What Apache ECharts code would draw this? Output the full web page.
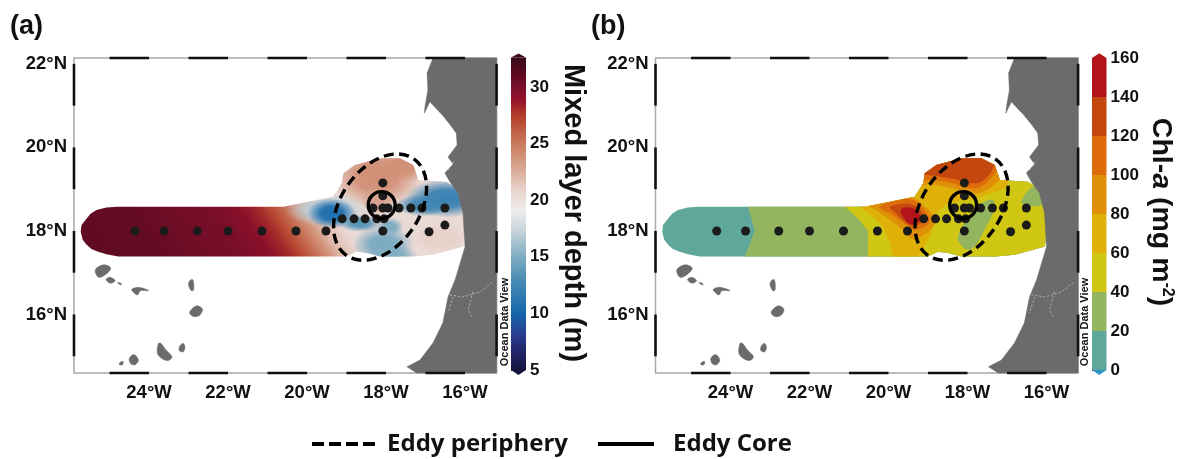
<!DOCTYPE html>
<html><head><meta charset="utf-8">
<style>html,body{margin:0;padding:0;background:#fff}#c{width:1184px;height:459px}</style>
<script src="https://cdn.jsdelivr.net/npm/echarts@6/dist/echarts.min.js"></script></head>
<body><div id="c"></div>
<script>
// ---- map extents and ticks
const lonRange=[-25.9,-15.2], latRange=[14.6,22.14];
const lonTicks=[-24,-22,-20,-18,-16], latTicks=[16,18,20,22];
const lonDashes=[[-25,-24],[-23,-22],[-21,-20],[-19,-18],[-17,-16]];
const latDashes=[[22,21],[20,19],[18,17],[16,15]];
// ---- stations [lon,lat]
const stations=[[-24.35,18],[-23.62,18],[-22.78,18],[-22,18],[-21.14,18],[-20.28,18],[-19.52,18],[-18.08,18],[-16.91,17.98],
[-19.11,18.29],[-18.81,18.29],[-18.53,18.29],[-18.23,18.29],[-18.05,18.29],
[-18.33,18.55],[-18.08,18.55],[-17.95,18.55],[-17.67,18.55],[-17.37,18.55],[-17.09,18.55],[-16.51,18.55],
[-18.08,18.84],[-18.08,19.15],[-16.51,18.14]];
// ---- eddy outlines [lon,lat,radius along axis (deg lon),radius across (deg lon),tilt deg]
const eddyPeriphery=[-18.15,18.57,1.49,0.99,55];
const eddyCore=[-18.11,18.62,0.34,0.34,0];
// ---- sampled area outline
const sampledArea=[[-25.73,17.98],[-25.71,18.14],[-25.58,18.3],[-25.48,18.41],[-25.33,18.5],[-25.08,18.56],[-24.82,18.58],[-20.6,18.58],[-20.18,18.66],[-19.34,18.82],[-19.12,19.14],[-19.08,19.38],[-18.79,19.58],[-18.15,19.74],[-17.65,19.74],[-17.31,19.58],[-17.18,19.22],[-16.47,19.18],[-16.21,19.02],[-16.04,18.5],[-16,18.03],[-16.04,17.63],[-16.8,17.43],[-17.3,17.39],[-18.15,17.39],[-18.49,17.47],[-18.75,17.5],[-19,17.39],[-24.78,17.39],[-25.08,17.44],[-25.29,17.5],[-25.46,17.57],[-25.58,17.67],[-25.68,17.79]];
// ---- land
const coast=[[-16.81,22.14],[-16.96,21.78],[-16.94,21.37],[-17.01,21.0],[-17.03,20.82],[-16.89,21.09],[-16.75,20.95],[-16.58,20.78],[-16.38,20.55],[-16.22,20.34],[-16.2,20.06],[-16.43,19.77],[-16.3,19.6],[-16.51,19.39],[-16.38,19.17],[-16.18,18.91],[-16.05,18.43],[-16,17.62],[-16.25,16.83],[-16.43,16.42],[-16.56,15.8],[-16.81,15.32],[-17.14,14.91],[-17.47,14.75],[-17.22,14.6],[-15.2,14.6],[-15.2,22.14]];
const islands=[
[[-25.36,17.07],[-25.15,17.19],[-24.97,17.11],[-25.11,16.95],[-25.28,16.89]],
[[-25.09,16.84],[-24.98,16.89],[-24.86,16.81],[-24.98,16.75]],
[[-24.8,16.77],[-24.69,16.73],[-24.73,16.71]],
[[-24.44,16.6],[-24.27,16.65],[-24.01,16.57],[-24.22,16.57],[-24.29,16.47],[-24.38,16.52]],
[[-22.97,16.81],[-22.89,16.83],[-22.87,16.59],[-22.93,16.57],[-23,16.71]],
[[-22.94,16.11],[-22.79,16.21],[-22.65,16.13],[-22.71,15.99],[-22.87,15.95],[-22.97,16.03]],
[[-23.23,15.23],[-23.14,15.31],[-23.09,15.22],[-23.13,15.11],[-23.23,15.13]],
[[-23.76,15.31],[-23.7,15.31],[-23.57,15.15],[-23.42,14.99],[-23.51,14.9],[-23.68,14.95],[-23.79,15.07]],
[[-24.5,14.95],[-24.38,15.04],[-24.27,14.91],[-24.35,14.8],[-24.46,14.82]],
[[-24.75,14.84],[-24.66,14.88],[-24.67,14.8],[-24.75,14.8]]];
const landCracks=[
[[-16.38,16.47],[-16.05,16.42],[-15.62,16.54],[-15.29,16.78]],
[[-16.3,16.42],[-16.43,16.04]],
[[-15.8,16.54],[-15.92,16.11],[-15.82,15.92]],
[[-16.43,19.46],[-16.25,19.7]]];
// ---- mixed layer depth: colour scale
const mldScale=[5,6.8,8.2,10,13,15,17.4,19.1,20.9,22.9,25,27.4,28.8,30,31.2,32.6];
const mldColors=['#15143f','#23286e','#2a3f90','#1366ab','#4a8db5','#7eadc2','#c9d6dc','#efeceb','#e8d3cc','#d9a590','#c97a5c','#b5402a','#95132a','#7a0e2a','#5a0a20','#3c0a1c'];
const mldTicks=[5,10,15,20,25,30];
// ---- mixed layer depth: west-to-east profile along 18N
const mldProfileLon=[-25.9,-24,-23,-22,-21.3,-20.9,-20.53,-20.3,-19.8,-19.54,-19];
const mldProfileVal=[31,30.8,30.3,30,29.2,28.2,27,26,23.5,22,20.4];
// ---- mixed layer depth: local features east of 20W [lon,lat,rx,ry,value]
const mldFeatures=[
[-18.24,19.3,1.15,0.75,24],[-17.48,19.62,0.65,0.45,24],[-16.47,18.78,1.05,0.46,12],[-17.06,18.62,0.7,0.27,12.5],
[-19.5,18.5,1.05,0.4,17],[-19.38,18.42,0.62,0.36,10.5],[-18.66,18.18,0.55,0.2,13.5],[-18.07,17.67,0.78,0.46,14.8],[-17.82,17.39,0.62,0.3,15],
[-17.9,18.1,0.35,0.22,15],[-16.63,17.83,0.75,0.36,21],[-18.2,18.72,0.42,0.34,23]];
// ---- chl-a: colour classes
const chlLevels=[0,20,40,60,80,100,120,140,160];
const chlColors=['#5fa79b','#93b55f','#d0c614','#dfb108','#df8f08','#de6c0b','#c3470f','#b3131b'];
// ---- chl-a: class areas, painted in this order
const chlClasses=[1,2,3,4,5,6,7,4,5,6,1,1];
const chlAreas=[
[[-23.6,18.7],[-23.47,18.3],[-23.39,18],[-23.51,17.7],[-23.68,17.3],[-15,17.3],[-15,20],[-23.6,20]],
[[-21.25,18.7],[-20.77,18.3],[-20.52,18],[-20.52,17.3],[-15,17.3],[-15,20],[-21.25,20]],
[[-20.72,18.62],[-19.97,18.78],[-19.5,18.9],[-19.4,19.3],[-19.2,20.1],[-17.3,20.1],[-17,19.5],[-16.98,19.14],[-17.15,18.98],[-17.53,18.86],[-17.78,18.78],[-18.29,18.7],[-18.71,18.5],[-18.88,18.1],[-19,17.79],[-19.38,17.3],[-19.8,17.3],[-20,17.8],[-20.18,18.14],[-20.45,18.38]],
[[-20.48,18.6],[-19.89,18.78],[-19.47,18.82],[-19.21,18.7],[-18.88,18.38],[-18.83,18.15],[-19.17,17.87],[-19.38,17.79],[-19.64,18.03],[-19.97,18.27],[-20.31,18.5]],
[[-20.23,18.58],[-19.8,18.73],[-19.43,18.76],[-19.09,18.5],[-18.96,18.22],[-19.3,18.03],[-19.55,18.15],[-19.89,18.38],[-20.14,18.5]],
[[-19.97,18.56],[-19.72,18.64],[-19.38,18.62],[-19.1,18.3],[-19.38,18.12],[-19.66,18.28],[-19.85,18.46]],
[[-19.68,18.52],[-19.38,18.54],[-19.18,18.3],[-19.43,18.16],[-19.62,18.32]],
[[-19.4,19.05],[-19,19.12],[-18.54,19.06],[-17.78,18.9],[-17.23,19.18],[-17,19.5],[-17,20.1],[-19.4,20.1]],
[[-19.4,19.2],[-19,19.22],[-18.54,19.18],[-17.78,19.02],[-17.38,19.3],[-17.2,19.55],[-17,20.1],[-19.4,20.1]],
[[-19.4,19.3],[-19.05,19.34],[-18.45,19.26],[-17.78,19.14],[-17.5,19.3],[-17.33,19.55],[-17.1,20.1],[-19.4,20.1]],
[[-18.24,17.87],[-18.03,18.27],[-17.74,18.58],[-17.48,18.74],[-17.32,18.7],[-17.36,18.42],[-17.53,18.1],[-17.78,17.67],[-17.99,17.55],[-18.2,17.71]],
[[-16.64,18.7],[-16.34,19.06],[-16.18,18.9],[-16.13,18.62],[-16.51,18.62]]];

// ---- helpers
function mldColor(v){
  if(v<=mldScale[0])return mldColors[0];
  for(let i=1;i<mldScale.length;i++){
    if(v<=mldScale[i]) return echarts.color.lerp((v-mldScale[i-1])/(mldScale[i]-mldScale[i-1]),[mldColors[i-1],mldColors[i]]);
  }
  return mldColors[mldColors.length-1];
}
const pts=(api,a)=>a.map(p=>api.coord(p));
const clipOf=api=>({type:'polygon',shape:{points:pts(api,sampledArea)}});
const GRAY='#6b6b6b';
function mapAxes(gi){
  const lab={fontFamily:'Liberation Sans',fontWeight:'bold',fontSize:18.5,color:'#111'};
  return {
    x:{type:'value',gridIndex:gi,min:lonRange[0],max:lonRange[1],splitLine:{show:false},axisLine:{show:false},axisTick:{show:false},
       axisLabel:{...lab,margin:10,customValues:lonTicks,formatter:v=>Math.abs(v)+'°W'}},
    y:{type:'value',gridIndex:gi,min:latRange[0],max:latRange[1],splitLine:{show:false},axisLine:{show:false},axisTick:{show:false},
       axisLabel:{...lab,margin:7,padding:[3,0,0,0],customValues:latTicks,formatter:v=>v+'°N'}}
  };
}
function custom(gi,data,renderItem,z){
  return {type:'custom',coordinateSystem:'cartesian2d',xAxisIndex:gi,yAxisIndex:gi,data,renderItem,silent:true,z:z||2,clip:false,animation:false};
}
function landSeries(gi){
  const all=[coast].concat(islands);
  return [
    custom(gi,all.map((a,i)=>[a[0][0],a[0][1],i]),(p,api)=>({type:'polygon',shape:{points:pts(api,all[p.dataIndex]),smooth:p.dataIndex?0.35:0},style:{fill:GRAY,stroke:GRAY,lineWidth:0.5}}),3),
    custom(gi,landCracks.map((a,i)=>[a[0][0],a[0][1],i]),(p,api)=>({type:'polyline',shape:{points:pts(api,landCracks[p.dataIndex])},style:{fill:'none',stroke:'#e8e8e8',lineWidth:0.6,lineDash:[2,2]}}),3)
  ];
}
function frameSeries(gi){
  const segs=[];
  lonDashes.forEach(d=>{segs.push([d[0],latRange[0],d[1],latRange[0]]);segs.push([d[0],latRange[1],d[1],latRange[1]]);});
  latDashes.forEach(d=>{segs.push([lonRange[0],d[0],lonRange[0],d[1]]);segs.push([lonRange[1],d[0],lonRange[1],d[1]]);});
  return custom(gi,segs,(p,api)=>{
    const a=api.coord([api.value(0),api.value(1)]),b=api.coord([api.value(2),api.value(3)]);
    return {type:'line',shape:{x1:a[0],y1:a[1],x2:b[0],y2:b[1]},style:{stroke:'#111',lineWidth:2.6}};
  },8);
}
function eddySeries(gi){
  const ring=(e,dash)=>(p,api)=>{
    const c=api.coord([e[0],e[1]]),rx=api.size([e[2],0])[0],ry=api.size([e[3],0])[0];
    return {type:'ellipse',x:c[0],y:c[1],rotation:e[4]*Math.PI/180,shape:{cx:0,cy:0,rx,ry},style:{fill:'none',stroke:'#000',lineWidth:3.4,lineDash:dash}};
  };
  return [custom(gi,[[eddyPeriphery[0],eddyPeriphery[1]]],ring(eddyPeriphery,[10,5.5]),7),
          custom(gi,[[eddyCore[0],eddyCore[1]]],ring(eddyCore,null),7)];
}
function stationSeries(gi){
  return {type:'scatter',xAxisIndex:gi,yAxisIndex:gi,data:stations,symbolSize:9,itemStyle:{color:'#1b1b1b',opacity:1},silent:true,z:6,animation:false};
}
// panel a field
function mldField(gi){
  const base=custom(gi,[[mldProfileLon[0],18]],(p,api)=>{
    const s=api.coord([mldProfileLon[0],18]),e=api.coord([mldProfileLon[mldProfileLon.length-1],18]);
    const L=e[0]-s[0],phi=33.7*Math.PI/180,c=Math.cos(phi),sn=Math.sin(phi);
    const span=mldProfileLon[mldProfileLon.length-1]-mldProfileLon[0];
    const stops=mldProfileLon.map((lon,i)=>({offset:(lon-mldProfileLon[0])/span,color:mldColor(mldProfileVal[i])}));
    const fill=new echarts.graphic.LinearGradient(s[0],s[1],s[0]+L*c*c,s[1]-L*c*sn,stops,true);
    return {type:'polygon',shape:{points:pts(api,sampledArea)},style:{fill}};
  },2);
  const blobs=custom(gi,mldFeatures,(p,api)=>{
    const f=mldFeatures[p.dataIndex],c=api.coord([f[0],f[1]]),sz=api.size([f[2],f[3]]);
    const col=mldColor(f[4]),fade=a=>echarts.color.modifyAlpha(col,a);
    const fill=new echarts.graphic.RadialGradient(0,0,1,[{offset:0,color:fade(1)},{offset:0.45,color:fade(0.92)},{offset:0.78,color:fade(0.4)},{offset:1,color:fade(0)}],true);
    return {type:'group',clipPath:clipOf(api),children:[{type:'circle',x:c[0],y:c[1],scaleX:sz[0],scaleY:sz[1],shape:{cx:0,cy:0,r:1},style:{fill}}]};
  },2);
  return [base,blobs];
}
// panel b field
function chlField(gi){
  const base=custom(gi,[[sampledArea[0][0],sampledArea[0][1]]],(p,api)=>({type:'polygon',shape:{points:pts(api,sampledArea)},style:{fill:chlColors[0]}}),2);
  const areas=custom(gi,chlAreas.map((a,i)=>[a[0][0],a[0][1],i]),(p,api)=>({type:'group',clipPath:clipOf(api),children:[{type:'polygon',shape:{points:pts(api,chlAreas[p.dataIndex]),smooth:p.dataIndex<2?0:0.4},style:{fill:chlColors[chlClasses[p.dataIndex]]}}]}),2);
  return [base,areas];
}
const cbLabel={fontFamily:'Liberation Sans',fontWeight:'bold',fontSize:17,color:'#111',margin:4};
function barAxis(gi,min,max,ticks){
  return {
    x:{type:'value',gridIndex:gi,min:0,max:1,show:false},
    y:{type:'value',gridIndex:gi,min,max,position:'right',splitLine:{show:false},axisLine:{show:false},
       axisTick:{show:true,length:3,inside:false,customValues:ticks,lineStyle:{color:'#333',width:1}},
       axisLabel:{...cbLabel,customValues:ticks}}
  };
}
function mldBar(gi){
  const lo=mldScale[0],hi=mldScale[mldScale.length-1];
  return custom(gi,[[0,lo]],(p,api)=>{
    const a=api.coord([0,hi]),b=api.coord([1,lo]);
    const stops=mldScale.map((v,i)=>({offset:(hi-v)/(hi-lo),color:mldColors[i]}));
    const fill=new echarts.graphic.LinearGradient(0,a[1],0,b[1],stops,true);
    const top=api.coord([0.5,32.95]),bot=api.coord([0.5,4.55]);
    return {type:'group',children:[
      {type:'rect',shape:{x:a[0],y:a[1],width:b[0]-a[0],height:b[1]-a[1]},style:{fill}},
      {type:'polygon',shape:{points:[[a[0],a[1]],[b[0],a[1]],top]},style:{fill:mldColors[mldColors.length-1]}},
      {type:'polygon',shape:{points:[[a[0],b[1]],[b[0],b[1]],bot]},style:{fill:mldColors[0]}}
    ]};
  },4);
}
function chlBar(gi){
  const bands=chlColors.map((c,i)=>[0,chlLevels[i],1,chlLevels[i+1]]);
  const rects=custom(gi,bands,(p,api)=>{
    const a=api.coord([0,api.value(3)]),b=api.coord([1,api.value(1)]);
    return {type:'rect',shape:{x:a[0],y:a[1],width:b[0]-a[0],height:b[1]-a[1]},style:{fill:chlColors[p.dataIndex]}};
  },4);
  const caps=custom(gi,[[0.5,162.5],[0.5,-2.5]],(p,api)=>{
    const i=p.dataIndex,tip=api.coord([0.5,api.value(1)]),base=i?0:160;
    const l=api.coord([0,base]),r=api.coord([1,base]);
    return {type:'polygon',shape:{points:[l,r,tip]},style:{fill:i?'#2f93c4':'#b3131b'}};
  },4);
  return [rects,caps];
}
const A=mapAxes(0),B=mapAxes(1),CA=barAxis(2,0,35,mldTicks),CB=barAxis(3,-20,180,chlLevels);
const gridStyle={show:true,backgroundColor:'#fff',borderColor:'#a8a8a8',borderWidth:1.5};
const legendBase={top:427,itemHeight:2,selectedMode:false,lineStyle:{width:4},itemStyle:{opacity:0}};
const legendFont={fontFamily:'Open Sans',fontWeight:'bold',fontSize:24,color:'#111'};
const titleFont={fontFamily:'Liberation Sans',fontWeight:'bold',fontSize:27,color:'#111'};
const option={
  animation:false,backgroundColor:'#fff',
  title:[{text:'(a)',left:5,top:8,textStyle:titleFont},{text:'(b)',left:586,top:8,textStyle:titleFont}],
  grid:[
    {left:74,top:58,width:422.6,height:315,...gridStyle},
    {left:655.5,top:58,width:422.6,height:315,...gridStyle},
    {left:511,top:30.4,width:15,height:396.2},
    {left:1092,top:19,width:14.5,height:390}],
  xAxis:[A.x,B.x,CA.x,CB.x],yAxis:[A.y,B.y,CA.y,CB.y],
  legend:[
    {...legendBase,left:305,itemWidth:63,textStyle:{...legendFont,padding:[0,0,0,7]},data:['Eddy periphery']},
    {...legendBase,left:591,itemWidth:56,textStyle:{...legendFont,padding:[0,0,0,14]},data:['Eddy Core']}],
  graphic:[
    {type:'text',x:573,y:213,rotation:-Math.PI/2,style:{text:'Mixed layer depth (m)',font:'bold 29px "Liberation Sans"',fill:'#111',align:'center',verticalAlign:'middle'}},
    {type:'text',x:1161,y:212,rotation:-Math.PI/2,style:{
      text:'{b|Chl-}{i|a}{b| (mg m}{s|-2}{b|)}',align:'center',verticalAlign:'middle',
      rich:{b:{font:'bold 28.5px "Liberation Sans"',fill:'#111'},i:{font:'italic bold 28.5px "Liberation Sans"',fill:'#111'},s:{font:'bold 16px "Liberation Sans"',fill:'#111',verticalAlign:'top',lineHeight:28}}}},
    {type:'text',x:505,y:322,rotation:Math.PI/2,style:{text:'Ocean Data View',font:'bold 11px "Liberation Sans"',fill:'#111',align:'center',verticalAlign:'middle'}},
    {type:'text',x:1085,y:322,rotation:Math.PI/2,style:{text:'Ocean Data View',font:'bold 11px "Liberation Sans"',fill:'#111',align:'center',verticalAlign:'middle'}}
  ],
  series:[
    ...mldField(0),...landSeries(0),stationSeries(0),...eddySeries(0),frameSeries(0),
    ...chlField(1),...landSeries(1),stationSeries(1),...eddySeries(1),frameSeries(1),
    mldBar(2),...chlBar(3),
    {type:'line',name:'Eddy periphery',xAxisIndex:0,yAxisIndex:0,data:[],symbol:'none',lineStyle:{color:'#000',width:4,type:[12,5]},itemStyle:{color:'#000'}},
    {type:'line',name:'Eddy Core',xAxisIndex:0,yAxisIndex:0,data:[],symbol:'none',lineStyle:{color:'#000',width:4},itemStyle:{color:'#000'}}
  ]
};
echarts.init(document.getElementById('c'),null,{renderer:'canvas'}).setOption(option);
</script></body></html>
